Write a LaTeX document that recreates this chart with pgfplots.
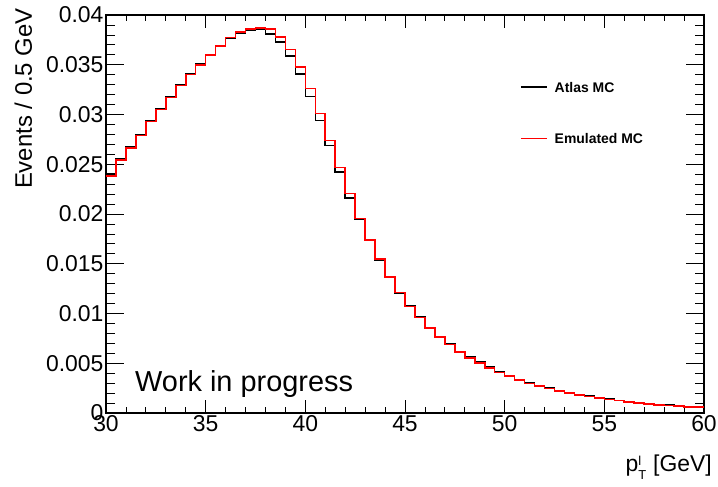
\documentclass[border=0pt]{standalone}
\usepackage{pgfplots}
\pgfplotsset{compat=1.18}
\usepackage{fontspec}
\setmainfont{Liberation Sans}
\pgfplotstableread{
x y
30.0 0.02400
30.5 0.02555
31.0 0.02680
31.5 0.02800
32.0 0.02940
32.5 0.03062
33.0 0.03178
33.5 0.03298
34.0 0.03410
34.5 0.03505
35.0 0.03595
35.5 0.03685
36.0 0.03765
36.5 0.03820
37.0 0.03845
37.5 0.03855
38.0 0.03810
38.5 0.03730
39.0 0.03588
39.5 0.03407
40.0 0.03179
40.5 0.02938
41.0 0.02687
41.5 0.02425
42.0 0.02158
42.5 0.01945
43.0 0.01735
43.5 0.01540
44.0 0.01362
44.5 0.01208
45.0 0.01075
45.5 0.00965
46.0 0.00860
46.5 0.00770
47.0 0.00693
47.5 0.00620
48.0 0.00560
48.5 0.00510
49.0 0.00460
49.5 0.00412
50.0 0.00374
50.5 0.00334
51.0 0.00300
51.5 0.00276
52.0 0.00249
52.5 0.00225
53.0 0.00205
53.5 0.00185
54.0 0.00168
54.5 0.00152
55.0 0.00138
55.5 0.00125
56.0 0.00114
56.5 0.00104
57.0 0.00094
57.5 0.00085
58.0 0.00078
58.5 0.00071
59.0 0.00065
59.5 0.00060
60.0 0.00060
}\atlas
\pgfplotstableread{
x y
30.0 0.02380
30.5 0.02540
31.0 0.02665
31.5 0.02790
32.0 0.02928
32.5 0.03052
33.0 0.03169
33.5 0.03290
34.0 0.03404
34.5 0.03500
35.0 0.03598
35.5 0.03688
36.0 0.03772
36.5 0.03830
37.0 0.03860
37.5 0.03872
38.0 0.03860
38.5 0.03780
39.0 0.03655
39.5 0.03480
40.0 0.03263
40.5 0.03012
41.0 0.02737
41.5 0.02469
42.0 0.02208
42.5 0.01955
43.0 0.01740
43.5 0.01545
44.0 0.01365
44.5 0.01210
45.0 0.01072
45.5 0.00960
46.0 0.00855
46.5 0.00765
47.0 0.00688
47.5 0.00614
48.0 0.00553
48.5 0.00503
49.0 0.00453
49.5 0.00407
50.0 0.00370
50.5 0.00331
51.0 0.00297
51.5 0.00274
52.0 0.00247
52.5 0.00223
53.0 0.00203
53.5 0.00183
54.0 0.00167
54.5 0.00150
55.0 0.00137
55.5 0.00124
56.0 0.00113
56.5 0.00103
57.0 0.00093
57.5 0.00083
58.0 0.00077
58.5 0.00070
59.0 0.00063
59.5 0.00059
60.0 0.00059
}\emul
\begin{document}
\begin{tikzpicture}
\path[use as bounding box] (-106bp,-74bp) rectangle (612bp,413bp);
\begin{axis}[
  scale only axis,
  width=598bp, height=398bp,
  xmin=30, xmax=60, ymin=0, ymax=0.04,
  axis line style={line width=1.2pt},
  xtick={30,35,...,60},
  ytick={0,0.005,0.01,0.015,0.02,0.025,0.03,0.035,0.04},
  yticklabels={0,0.005,0.01,0.015,0.02,0.025,0.03,0.035,0.04},
  minor x tick num=4, minor y tick num=4,
  tick align=inside, xtick pos=both, ytick pos=both,
  xtick style={black, line width=0.8pt, /pgfplots/major tick length=13bp, /pgfplots/minor tick length=6.5bp},
  ytick style={black, line width=0.8pt, /pgfplots/major tick length=18bp, /pgfplots/minor tick length=9bp},
  scaled y ticks=false,
  /pgf/number format/assume math mode=true,
  tick label style={font=\fontsize{23}{25}\selectfont},
  xticklabel style={yshift=1bp},
  yticklabel style={xshift=1bp},
  xlabel={p\rlap{\raisebox{0.55ex}{\fontsize{13}{14}\selectfont l}}\raisebox{-0.6ex}{\fontsize{13}{14}\selectfont T}\hspace{0.3em}[GeV]},
  xlabel style={at={(rel axis cs:1,0)}, anchor=north east, yshift=-42bp, xshift=8bp, inner sep=0pt, font=\fontsize{23}{25}\selectfont},
  ylabel={Events / 0.5 GeV},
  ylabel style={at={(rel axis cs:0,1)}, anchor=base east, xshift=7bp, yshift=74bp, inner sep=0pt, font=\fontsize{24}{26}\selectfont},
  every axis legend/.style={at={(rel axis cs:0.692,0.8317)}, anchor=north west, inner sep=0pt, row sep=41bp, column sep=7bp,
    cells={anchor=west, inner sep=0pt}, font=\bfseries\fontsize{14}{16}\selectfont},
  legend image code/.code={\draw[#1, line width=1.7pt] (0bp,0bp) -- (26bp,0bp);},
]
\addplot[const plot, black, line width=1.6pt] table[x=x,y=y] {\atlas};
\addlegendentry{Atlas MC}
\addplot[const plot, red, line width=1.6pt] table[x=x,y=y] {\emul};
\addlegendentry{Emulated MC}
\node[anchor=base west, inner sep=0pt, font=\fontsize{29}{31}\selectfont] at (rel axis cs:0.0485,0.055) {Work in progress};
\end{axis}
\end{tikzpicture}
\end{document}
